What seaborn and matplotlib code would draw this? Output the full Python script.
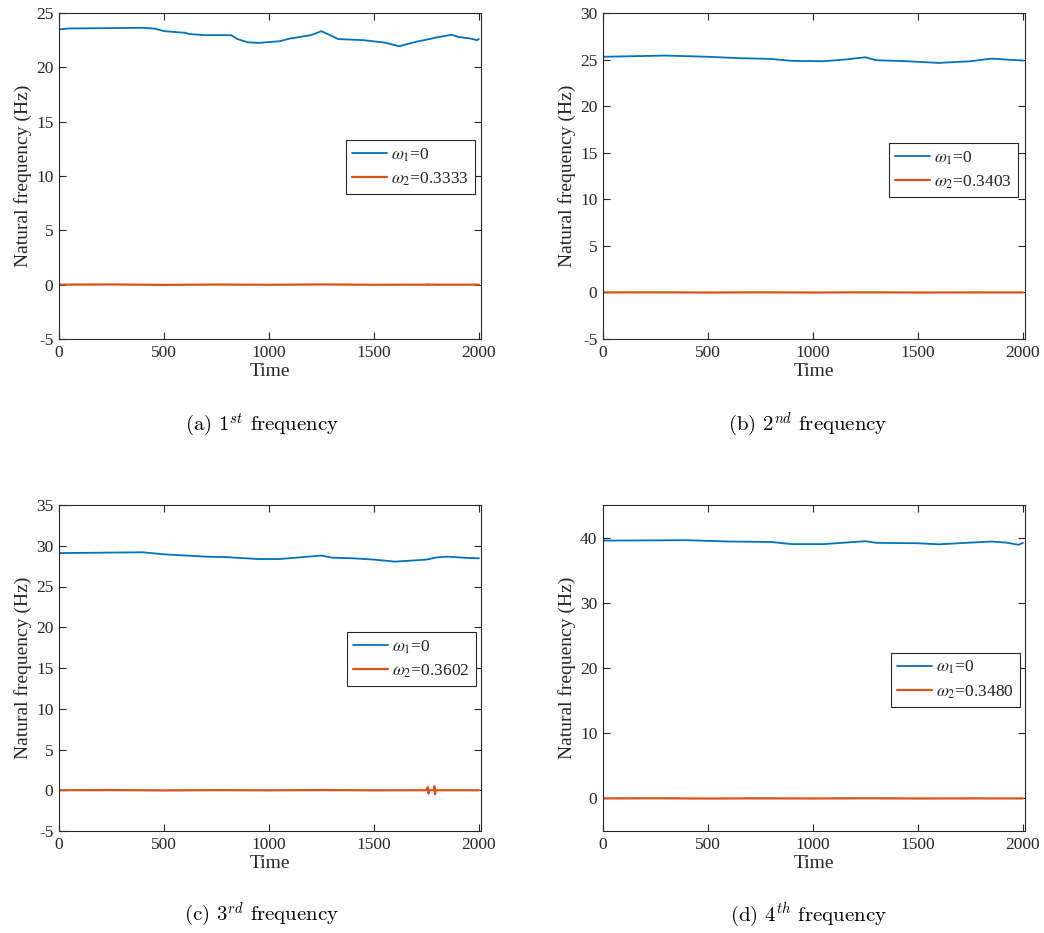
import numpy as np
import pandas as pd
import matplotlib
matplotlib.use("Agg")
import matplotlib.pyplot as plt
import seaborn as sns
from matplotlib.font_manager import FontProperties

# ---------------- data ----------------
t_a = [0, 50, 200, 400, 460, 500, 560, 600, 620, 700, 820, 850, 900, 950, 1050, 1100,
       1200, 1250, 1330, 1450, 1550, 1620, 1700, 1800, 1870, 1900, 1960, 1990, 2000]
f1_a = [23.49, 23.58, 23.60, 23.64, 23.55, 23.33, 23.24, 23.18, 23.06, 22.96, 22.96, 22.6,
        22.3, 22.25, 22.4, 22.65, 22.96, 23.33, 22.6, 22.5, 22.28, 21.94, 22.35, 22.75,
        23.0, 22.8, 22.65, 22.5, 22.6]

t_b = [0, 300, 500, 650, 800, 900, 1050, 1150, 1250, 1300, 1450, 1600, 1750, 1850, 1950, 2000]
f1_b = [25.3, 25.43, 25.3, 25.15, 25.07, 24.86, 24.82, 25.0, 25.25, 24.93, 24.82, 24.64,
        24.82, 25.1, 24.96, 24.9]

t_c = [0, 400, 500, 700, 800, 950, 1050, 1150, 1250, 1300, 1400, 1500, 1600, 1750, 1800,
       1850, 1950, 2000]
f1_c = [29.1, 29.2, 28.95, 28.66, 28.6, 28.37, 28.37, 28.58, 28.8, 28.54, 28.46, 28.3,
        28.05, 28.3, 28.58, 28.66, 28.5, 28.46]

t_d = [0, 400, 600, 800, 900, 1050, 1250, 1300, 1500, 1600, 1750, 1850, 1920, 1980, 2000]
f1_d = [39.54, 39.6, 39.4, 39.33, 39.0, 39.0, 39.45, 39.2, 39.13, 38.97, 39.23, 39.4,
        39.23, 38.9, 39.2]

t_r = [0, 250, 500, 750, 1000, 1250, 1500, 1750, 1757, 1760, 1763, 1785, 1788, 1791, 1794, 2000]
f2_a = [0.0, 0.02, -0.02, 0.01, -0.01, 0.02, -0.01, 0.0, 0.02, -0.02, 0.0, 0.01, -0.01, 0.01, 0.0, 0.0]
f2_b = [0.0, 0.01, -0.01, 0.01, -0.01, 0.01, -0.01, 0.0, 0.01, -0.01, 0.0, 0.01, -0.01, 0.01, 0.0, 0.0]
f2_c = [0.0, 0.02, -0.02, 0.01, -0.01, 0.02, -0.01, 0.0, 0.4, -0.4, 0.0, 0.0, 0.5, -0.5, 0.0, 0.0]
f2_d = [0.0, 0.02, -0.02, 0.01, -0.01, 0.02, -0.01, 0.0, 0.02, -0.02, 0.0, 0.01, -0.01, 0.01, 0.0, 0.0]

w2_vals = ["0.3333", "0.3403", "0.3602", "0.3480"]
captions = [r"(a) 1$^{st}$ frequency", r"(b) 2$^{nd}$ frequency",
            r"(c) 3$^{rd}$ frequency", r"(d) 4$^{th}$ frequency"]
ylims = [(-5, 25), (-5, 30), (-5, 35), (-5, 45)]
yticks = [np.arange(-5, 26, 5), np.arange(-5, 31, 5), np.arange(-5, 36, 5), np.arange(0, 41, 10)]
xticks = [0, 500, 1000, 1500, 2000]

# ---------------- style ----------------
sns.set_theme(style="ticks")
plt.rcParams["font.family"] = ["Liberation Serif", "DejaVu Serif"]
plt.rcParams["mathtext.fontset"] = "stix"
plt.rcParams["axes.unicode_minus"] = False

BLUE = "#0072BD"
ORANGE = "#D95319"
AXC = "#262626"

fig = plt.figure(figsize=(10.44, 9.33), dpi=100)
W, H = 1044, 933
boxes = [(59, 13), (603, 13), (59, 505), (603, 505)]
aw, ah = 422, 326
legend_anchor = [(0.986, 0.610), (0.983, 0.601), (0.988, 0.610), (0.988, 0.546)]
cap_pos = [(262, 425), (808, 425), (262, 915), (808, 915)]

blues = [(t_a, f1_a), (t_b, f1_b), (t_c, f1_c), (t_d, f1_d)]
reds = [f2_a, f2_b, f2_c, f2_d]

for i in range(4):
    x0, y0 = boxes[i]
    ax = fig.add_axes([x0 / W, 1 - (y0 + ah) / H, aw / W, ah / H])
    tb, fb = blues[i]
    sns.lineplot(x=tb, y=fb, ax=ax, color=BLUE, lw=1.3, label=r"$\omega_1$=0")
    sns.lineplot(x=t_r, y=reds[i], ax=ax, color=ORANGE, lw=1.6,
                 label=r"$\omega_2$=" + w2_vals[i])
    ax.set_xlim(0, 2010)
    ax.set_ylim(*ylims[i])
    ax.set_xticks(xticks)
    ax.set_yticks(yticks[i])
    ax.tick_params(direction="in", length=5, width=0.8, top=True, right=True,
                   labelsize=12.5, colors=AXC, pad=4)
    for s in ax.spines.values():
        s.set_visible(True)
        s.set_color(AXC)
        s.set_linewidth(0.8)
    ax.set_xlabel("Time", fontsize=14, color=AXC, labelpad=2)
    ax.set_ylabel("Natural frequency (Hz)", fontsize=14, color=AXC, labelpad=3)
    leg = ax.legend(loc="upper right", bbox_to_anchor=legend_anchor[i],
                    prop=FontProperties(family="Liberation Serif", size=12.5,
                                        math_fontfamily="stix"),
                    frameon=True, fancybox=False, edgecolor=AXC, framealpha=1,
                    borderpad=0.35, handlelength=2.0, handletextpad=0.25,
                    labelspacing=0.4, borderaxespad=0)
    leg.get_frame().set_linewidth(0.8)
    cx, cy = cap_pos[i]
    fig.text(cx / W, 1 - cy / H, captions[i], ha="center", va="center",
             fontproperties=FontProperties(family="cmr10", size=15,
                                           math_fontfamily="cm"),
             color="black")

fig.savefig("out.png", dpi=100)
